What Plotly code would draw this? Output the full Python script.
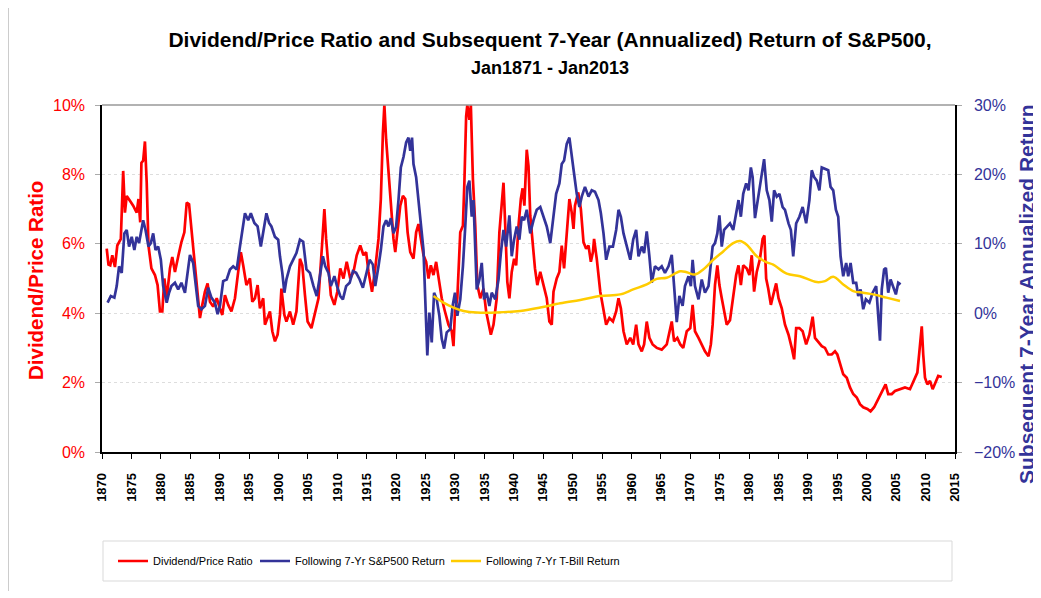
import plotly.graph_objects as go

RED = "#FF0000"
NAVY = "#333399"
GOLD = "#FFCC00"

# Dividend/Price ratio (%)
dp_years = [
    1870.8, 1871.1, 1871.4, 1871.75, 1872.2, 1872.6, 1873.2, 1873.6, 1873.9, 1874.2,
    1874.75, 1875.3, 1875.9, 1876.2, 1876.5, 1876.7, 1877.0, 1877.3, 1877.6, 1877.9,
    1878.4, 1879.0, 1879.45, 1879.85, 1880.25, 1880.6, 1881.0, 1881.55, 1881.95, 1882.4,
    1883.0, 1883.5, 1884.0, 1884.4, 1884.8, 1885.2, 1885.7, 1886.1, 1886.65, 1887.05,
    1887.5, 1887.95, 1888.35, 1888.9, 1889.5, 1890.05, 1890.45, 1890.9, 1891.45, 1892.0,
    1892.6, 1893.15, 1893.6, 1894.0, 1894.55, 1895.15, 1895.55, 1896.0, 1896.45, 1896.85,
    1897.4, 1897.7, 1898.15, 1898.55, 1898.95, 1899.4, 1899.85, 1900.25, 1900.5, 1901.0,
    1901.35, 1901.95, 1902.5, 1903.05, 1903.65, 1904.05, 1904.5, 1904.95, 1905.6, 1906.25,
    1906.8, 1907.4, 1907.8, 1908.1, 1908.5, 1908.9, 1909.5, 1910.0, 1910.5, 1911.05,
    1911.6, 1912.2, 1912.75, 1913.3, 1913.9, 1914.45, 1914.9, 1915.3, 1915.9, 1916.45,
    1917.0, 1917.4, 1917.75, 1918.0, 1918.3, 1918.7, 1919.1, 1919.55, 1919.85, 1920.25,
    1920.7, 1921.15, 1921.55, 1921.95, 1922.4, 1922.95, 1923.4, 1923.8, 1924.2, 1924.65,
    1925.1, 1925.5, 1925.9, 1926.35, 1926.8, 1927.2, 1927.75, 1928.3, 1928.9, 1929.45,
    1929.75, 1930.0, 1930.4, 1930.9, 1931.35, 1931.6, 1931.9, 1932.1, 1932.45, 1932.7,
    1933.05, 1933.45, 1933.8, 1934.3, 1934.85, 1935.3, 1935.7, 1936.1, 1936.55, 1937.1,
    1937.55, 1937.95, 1938.25, 1938.5, 1938.9, 1939.25, 1939.65, 1940.05, 1940.4, 1940.8,
    1941.2, 1941.5, 1941.8, 1942.2, 1942.5, 1942.8, 1943.25, 1943.6, 1944.0, 1944.5,
    1945.05, 1945.6, 1946.05, 1946.45, 1946.75, 1947.3, 1947.75, 1948.15, 1948.55, 1949.0,
    1949.45, 1949.85, 1950.15, 1950.4, 1950.95, 1951.4, 1951.85, 1952.3, 1952.7, 1953.1,
    1953.45, 1953.65, 1954.1, 1954.7, 1955.25, 1955.7, 1956.25, 1956.85, 1957.4, 1957.8,
    1958.2, 1958.65, 1959.2, 1959.8, 1960.3, 1960.8, 1961.2, 1961.75, 1962.15, 1962.6,
    1963.05, 1963.6, 1964.3, 1965.15, 1966.0, 1966.85, 1967.25, 1967.8, 1968.3, 1968.8,
    1969.4, 1970.0, 1970.4, 1970.8, 1971.4, 1971.95, 1972.5, 1973.1, 1973.5, 1973.8,
    1974.2, 1974.6, 1974.95, 1975.35, 1975.75, 1976.2, 1976.75, 1977.3, 1977.8, 1978.2,
    1978.6, 1979.0, 1979.6, 1980.05, 1980.45, 1980.85, 1981.3, 1981.85, 1982.3, 1982.6,
    1982.9, 1983.25, 1983.7, 1984.1, 1984.6, 1985.0, 1985.55, 1986.1, 1986.7, 1987.25,
    1987.65, 1988.0, 1988.55, 1989.1, 1989.7, 1990.25, 1990.8, 1991.2, 1991.75, 1992.35,
    1992.9, 1993.45, 1994.05, 1994.6, 1995.0, 1995.45, 1996.0, 1996.6, 1997.15, 1997.7,
    1998.3, 1998.85, 1999.4, 2000.1, 2000.65, 2001.25, 2001.8, 2002.35, 2002.8, 2003.2,
    2003.65, 2004.25, 2004.8, 2005.65, 2006.5, 2007.35, 2008.0, 2008.6, 2008.9, 2009.35,
    2009.6, 2009.9, 2010.3, 2010.75, 2011.2, 2011.75, 2012.15, 2012.75,
]
dp_values = [
    5.86, 5.40, 5.38, 5.67, 5.33, 5.95, 6.14, 8.10, 6.90, 7.38,
    7.24, 7.10, 6.90, 7.29, 6.62, 8.33, 8.40, 8.95, 7.76, 5.95,
    5.29, 5.10, 4.81, 4.05, 4.05, 5.00, 4.43, 5.29, 5.62, 5.19,
    5.67, 6.05, 6.33, 7.19, 7.14, 6.43, 5.57, 4.71, 3.86, 4.24,
    4.62, 4.86, 4.33, 4.19, 4.43, 4.14, 3.95, 4.52, 4.24, 4.05,
    4.43, 5.19, 5.76, 5.38, 4.81, 5.00, 4.33, 4.43, 4.81, 4.14,
    4.43, 3.67, 3.86, 4.05, 3.48, 3.19, 3.38, 3.95, 4.71, 3.95,
    3.76, 4.05, 3.67, 4.05, 5.57, 5.38, 4.52, 3.76, 3.57, 4.05,
    4.43, 5.95, 7.00, 6.14, 5.19, 4.52, 4.24, 4.62, 5.29, 5.00,
    5.48, 5.00, 5.19, 5.67, 5.95, 5.67, 5.76, 5.19, 4.62, 5.29,
    6.14, 7.29, 9.19, 10.0, 9.00, 8.05, 7.19, 6.14, 5.76, 6.33,
    7.10, 7.38, 7.29, 6.33, 5.76, 5.57, 6.33, 6.57, 6.14, 5.67,
    5.48, 5.00, 5.38, 5.10, 5.48, 5.00, 4.43, 4.05, 3.67, 3.48,
    3.05, 4.05, 4.43, 6.33, 6.52, 7.76, 9.67, 10.0, 9.57, 10.0,
    7.86, 6.52, 4.81, 4.43, 4.71, 4.05, 3.67, 3.38, 3.67, 4.43,
    6.33, 7.29, 7.76, 6.71, 4.90, 4.43, 5.19, 5.57, 5.38, 6.52,
    7.29, 7.60, 7.10, 8.71, 8.24, 6.81, 5.86, 5.29, 4.81, 5.19,
    4.81, 4.43, 3.76, 3.67, 4.62, 5.00, 5.19, 5.95, 5.29, 6.33,
    7.29, 6.90, 6.43, 7.10, 7.48, 7.00, 6.05, 5.86, 5.95, 5.48,
    5.76, 6.14, 5.57, 4.62, 4.05, 3.67, 3.86, 3.76, 4.05, 4.43,
    4.14, 3.48, 3.10, 3.29, 3.10, 3.67, 3.10, 2.90, 3.10, 3.76,
    3.29, 3.10, 3.00, 2.95, 3.10, 3.76, 3.19, 3.29, 3.10, 3.00,
    3.48, 3.57, 4.24, 3.48, 3.29, 3.10, 2.90, 2.76, 3.10, 3.67,
    4.81, 5.38, 4.81, 4.43, 4.05, 3.67, 3.80, 4.43, 5.10, 5.38,
    4.81, 5.38, 5.29, 5.10, 5.67, 4.62, 5.19, 5.57, 6.14, 6.24,
    5.00, 4.71, 4.24, 4.52, 4.86, 4.43, 4.14, 3.67, 3.38, 3.00,
    2.67, 3.57, 3.57, 3.48, 3.10, 3.38, 3.90, 3.29, 3.19, 3.05,
    3.00, 2.81, 2.81, 2.90, 2.81, 2.52, 2.24, 2.14, 1.86, 1.67,
    1.57, 1.38, 1.29, 1.24, 1.17, 1.29, 1.48, 1.67, 1.86, 1.95,
    1.67, 1.67, 1.76, 1.81, 1.86, 1.81, 2.05, 2.29, 2.81, 3.62,
    2.81, 2.14, 1.95, 2.05, 1.81, 2.05, 2.19, 2.16,
]

# Following 7-year annualized S&P500 return (%)
sp_years = [
    1870.95, 1871.5, 1872.1, 1872.5, 1872.9, 1873.35, 1873.8, 1874.2, 1874.6, 1875.05,
    1875.5, 1875.9, 1876.3, 1876.6, 1877.0, 1877.4, 1877.9, 1878.3, 1878.7, 1879.1,
    1879.55, 1880.0, 1880.4, 1881.0, 1881.4, 1881.8, 1882.4, 1882.95, 1883.5, 1884.1,
    1884.55, 1884.95, 1885.5, 1885.9, 1886.35, 1886.9, 1887.5, 1888.05, 1888.6, 1889.2,
    1889.65, 1890.05, 1890.6, 1891.2, 1891.75, 1892.3, 1892.9, 1893.45, 1893.85, 1894.3,
    1894.85, 1895.3, 1895.9, 1896.45, 1897.0, 1897.4, 1897.95, 1898.4, 1898.8, 1899.4,
    1899.95, 1900.25, 1900.65, 1901.0, 1901.35, 1901.95, 1902.5, 1903.05, 1903.65, 1904.2,
    1904.75, 1905.35, 1905.95, 1906.5, 1906.95, 1907.55, 1907.95, 1908.5, 1908.9, 1909.5,
    1909.95, 1910.5, 1910.95, 1911.5, 1912.1, 1912.65, 1913.2, 1913.8, 1914.35, 1914.9,
    1915.5, 1916.05, 1916.45, 1917.0, 1917.4, 1917.85, 1918.3, 1918.7, 1919.1, 1919.55,
    1920.0, 1920.4, 1920.8, 1921.25, 1921.7, 1922.1, 1922.4, 1922.7, 1922.95, 1923.4,
    1923.8, 1924.2, 1924.65, 1924.95, 1925.3, 1925.65, 1926.05, 1926.45, 1926.9, 1927.35,
    1927.75, 1928.15, 1928.6, 1929.2, 1929.6, 1930.0, 1930.4, 1930.9, 1931.35, 1931.75,
    1932.1, 1932.45, 1932.85, 1933.15, 1933.45, 1933.7, 1934.15, 1934.55, 1934.95, 1935.4,
    1935.85, 1936.25, 1936.85, 1937.4, 1937.8, 1938.25, 1938.7, 1939.25, 1939.65, 1940.05,
    1940.5, 1940.95, 1941.35, 1941.75, 1942.2, 1942.8, 1943.35, 1943.9, 1944.5, 1945.05,
    1945.6, 1946.2, 1946.75, 1947.2, 1947.75, 1948.15, 1948.55, 1949.0, 1949.45, 1949.85,
    1950.25, 1950.7, 1951.15, 1951.55, 1952.1, 1952.7, 1953.25, 1953.8, 1954.4, 1954.8,
    1955.25, 1955.7, 1956.25, 1956.85, 1957.4, 1957.8, 1958.2, 1958.65, 1959.2, 1959.8,
    1960.3, 1960.8, 1961.2, 1961.75, 1962.15, 1962.6, 1963.05, 1963.45, 1964.0, 1964.6,
    1965.15, 1965.7, 1966.3, 1966.85, 1967.25, 1967.7, 1968.15, 1968.7, 1969.1, 1969.7,
    1970.1, 1970.4, 1970.8, 1971.4, 1971.95, 1972.5, 1973.1, 1973.5, 1973.8, 1974.2,
    1974.6, 1974.95, 1975.35, 1975.75, 1976.2, 1976.75, 1977.3, 1977.8, 1978.2, 1978.6,
    1979.0, 1979.5, 1979.9, 1980.3, 1980.6, 1981.0, 1981.55, 1982.15, 1982.55, 1983.0,
    1983.45, 1983.85, 1984.25, 1984.7, 1985.15, 1985.7, 1986.1, 1986.7, 1987.1, 1987.5,
    1988.0, 1988.55, 1989.1, 1989.7, 1990.25, 1990.65, 1991.05, 1991.5, 1991.95, 1992.35,
    1992.9, 1993.45, 1993.85, 1994.3, 1994.75, 1995.15, 1995.55, 1996.0, 1996.5, 1996.85,
    1997.25, 1997.7, 1998.2, 1998.55, 1998.95, 1999.4, 1999.85, 2000.45, 2001.0, 2001.6,
    2001.95, 2002.25, 2002.55, 2002.95, 2003.25, 2003.65, 2004.05, 2004.5, 2004.95, 2005.35,
    2005.75,
]
sp_values = [
    1.52, 2.48, 2.24, 3.90, 6.76, 5.81, 11.5, 12.0, 9.60, 11.0,
    9.10, 11.0, 10.1, 11.5, 13.4, 12.0, 9.60, 10.1, 11.5, 9.10,
    9.60, 7.70, 3.90, 1.52, 2.95, 3.90, 4.38, 3.43, 4.38, 2.95,
    6.30, 8.40, 7.24, 3.90, 1.05, 0.57, 1.05, 3.67, 2.24, 1.52,
    -0.14, 1.05, 4.62, 4.86, 6.30, 6.76, 6.30, 9.60, 12.0, 14.4,
    13.4, 14.4, 13.0, 12.5, 9.60, 11.5, 14.4, 13.0, 12.5, 11.0,
    10.6, 8.20, 5.81, 2.95, 4.86, 6.76, 7.70, 8.67, 10.6, 10.3,
    6.30, 5.81, 3.90, 2.48, 4.86, 8.20, 6.76, 5.81, 3.90, 5.33,
    3.90, 2.48, 2.00, 3.90, 4.38, 6.05, 5.81, 4.86, 3.67, 5.81,
    7.70, 7.00, 3.90, 6.76, 9.10, 12.5, 13.4, 12.5, 13.7, 11.5,
    12.5, 16.3, 21.0, 22.5, 24.6, 25.3, 23.4, 25.3, 21.5, 19.6,
    16.3, 13.4, 9.10, 2.00, -6.10, 0.10, -4.20, 2.95, 2.00, -0.38,
    -3.70, -5.10, -2.76, -2.30, 1.05, 2.95, -0.38, 2.00, 6.76, 12.5,
    18.2, 19.1, 13.9, 16.3, 10.6, 3.43, 4.86, 7.24, 2.00, 2.95,
    1.05, 2.95, 2.00, 4.86, 8.67, 12.0, 9.60, 14.1, 8.20, 10.6,
    12.5, 10.6, 13.9, 13.4, 14.9, 11.5, 13.4, 14.9, 15.3, 13.9,
    12.5, 10.1, 14.4, 17.2, 18.7, 21.5, 22.0, 24.4, 25.3, 23.0,
    20.1, 17.2, 15.3, 16.8, 18.2, 16.8, 17.7, 17.5, 16.3, 14.4,
    11.5, 7.70, 9.60, 9.60, 12.0, 14.9, 13.9, 11.5, 9.60, 7.70,
    10.6, 12.0, 8.20, 9.60, 8.67, 11.8, 8.20, 4.38, 6.76, 6.30,
    6.76, 5.81, 6.76, 8.40, 3.90, -1.30, 2.48, 1.05, 3.90, 5.33,
    3.90, 7.70, 3.90, 2.00, 4.86, 2.95, 3.90, 6.76, 9.60, 10.1,
    11.5, 14.1, 9.60, 12.0, 12.5, 12.95, 12.0, 14.4, 16.3, 13.9,
    17.2, 18.7, 17.7, 21.0, 19.6, 13.7, 16.8, 20.1, 22.2, 17.7,
    16.3, 13.2, 17.7, 16.8, 17.2, 15.3, 14.9, 12.95, 12.0, 8.20,
    12.95, 13.9, 15.3, 12.95, 16.3, 20.6, 19.6, 19.1, 17.7, 21.0,
    20.8, 20.6, 18.2, 17.7, 14.9, 13.9, 8.20, 5.33, 7.24, 5.33,
    7.24, 4.38, 4.38, 2.48, 3.43, 0.57, 2.00, 1.52, 2.95, 3.90,
    -0.38, -3.95, 3.43, 6.30, 6.52, 2.95, 4.86, 3.90, 2.71, 4.38,
    4.14,
]

# Following 7-year T-Bill return (%)
tb_years = [
    1926.35, 1928.05, 1929.75, 1931.45, 1933.7, 1937.1, 1941.1, 1944.5, 1947.9, 1951.3,
    1954.7, 1958.1, 1960.3, 1962.6, 1964.3, 1966.0, 1968.3, 1969.4, 1970.8, 1972.2,
    1973.9, 1975.6, 1977.3, 1978.45, 1979.6, 1981.3, 1983.0, 1984.1, 1986.4, 1988.65,
    1991.5, 1992.9, 1994.3, 1996.0, 1997.7, 1999.4, 2001.1, 2003.35, 2005.65,
]
tb_values = [
    2.48, 1.52, 0.81, 0.33, 0.10, 0.10, 0.33, 0.81, 1.43, 1.90,
    2.48, 2.71, 3.43, 4.14, 4.95, 5.10, 6.05, 5.90, 5.57, 6.30,
    7.70, 8.90, 10.1, 10.4, 9.86, 8.20, 7.33, 7.00, 5.70, 5.33,
    4.48, 4.62, 5.24, 4.14, 3.19, 2.95, 2.71, 2.24, 1.76,
]

x_ticks = list(range(1870, 2016, 5))

OFF = 8  # page margin around the figure
W, H = 1041 - OFF, 598 - OFF
L, R, T, B = 94, 86, 97, 146


def px_x(px):
    # page pixel -> paper x
    return (px - OFF - L) / (W - L - R)


def px_y(py):
    # page pixel -> paper y
    return (H - B - (py - OFF)) / (H - T - B)


fig = go.Figure()
fig.add_trace(go.Scatter(x=dp_years, y=dp_values, mode="lines", name="Dividend/Price Ratio",
                         line=dict(color=RED, width=2.7), legend="legend"))
fig.add_trace(go.Scatter(x=sp_years, y=sp_values, mode="lines", name="Following 7-Yr S&P500 Return",
                         line=dict(color=NAVY, width=2.7), yaxis="y2", legend="legend2"))
fig.add_trace(go.Scatter(x=tb_years, y=tb_values, mode="lines", name="Following 7-Yr T-Bill Return",
                         line=dict(color=GOLD, width=2.5, shape="spline"), yaxis="y2", legend="legend3"))

legend_font = dict(size=11, family="Liberation Sans Narrow, Arial Narrow, Arial", color="black")


def legend_at(px):
    return dict(orientation="h", x=px_x(px), xanchor="left", y=px_y(561), yanchor="middle",
                font=legend_font, itemwidth=30, bgcolor="rgba(0,0,0,0)")


title_text = (
    "<b>Dividend/Price Ratio and Subsequent 7-Year (Annualized) Return of S&P500,</b><br>"
    "<b><span style='font-size:18px'>Jan1871 - Jan2013</span></b>"
)

fig.update_layout(
    width=W,
    height=H,
    margin=dict(l=L, r=R, t=T, b=B),
    paper_bgcolor="white",
    plot_bgcolor="white",
    font=dict(family="Arial, Liberation Sans, sans-serif", color="black"),
    title=dict(
        text=title_text,
        x=(550 - OFF) / W, xanchor="center", y=1 - 39 / H, yanchor="top",
        font=dict(size=21, color="black"),
    ),
    xaxis=dict(
        range=[1870, 2015], tickvals=x_ticks, ticktext=[str(v) for v in x_ticks],
        tickangle=-90, tickfont=dict(size=13, weight="bold", family="Liberation Sans Narrow, Arial Narrow, Arial"),
        ticks="outside", ticklen=5, tickcolor="black",
        showline=True, linecolor="black", linewidth=1.5, showgrid=False, zeroline=False,
        ticklabelstandoff=9,
    ),
    yaxis=dict(
        range=[0, 10], dtick=2, ticksuffix="%", tickfont=dict(size=16, color=RED),
        ticks="outside", ticklen=5, tickcolor="#aaaaaa",
        showline=True, linecolor="black", linewidth=1.5,
        showgrid=True, gridcolor="#dddddd", griddash="dot", zeroline=False,
        ticklabelstandoff=7,
    ),
    yaxis2=dict(
        range=[-20, 30], dtick=10, ticksuffix="%", tickfont=dict(size=16, color=NAVY),
        overlaying="y", side="right", ticks="outside", ticklen=5, tickcolor="#aaaaaa",
        showline=True, linecolor="black", linewidth=1.5, showgrid=False, zeroline=False,
        ticklabelstandoff=9,
    ),
    legend=legend_at(113),
    legend2=legend_at(255),
    legend3=legend_at(446),
    showlegend=True,
)

fig.add_annotation(text="<b>Dividend/Price Ratio</b>", textangle=-90, xref="paper", yref="paper",
                   x=px_x(35), y=px_y(281), xanchor="center", yanchor="middle",
                   showarrow=False, font=dict(size=20.5, color=RED))
fig.add_annotation(text="<b>Subsequent 7-Year Annualized Return</b>", textangle=-90, xref="paper", yref="paper",
                   x=px_x(1026), y=px_y(294), xanchor="center", yanchor="middle",
                   showarrow=False, font=dict(size=21, color=NAVY))

# top border of plot area
fig.add_shape(type="line", xref="paper", yref="paper", x0=0, x1=1, y0=1, y1=1,
              line=dict(color="#999999", width=1.5))
# legend frame
fig.add_shape(type="rect", xref="paper", yref="paper", x0=px_x(103), x1=px_x(952),
              y0=px_y(581), y1=px_y(541), line=dict(color="#d9d9d9", width=1))
# outer chart frame (left edge)
fig.add_shape(type="line", xref="paper", yref="paper", x0=px_x(8.5), x1=px_x(8.5),
              y0=px_y(8), y1=px_y(591), line=dict(color="#cccccc", width=1))

fig.write_html("out.html")
